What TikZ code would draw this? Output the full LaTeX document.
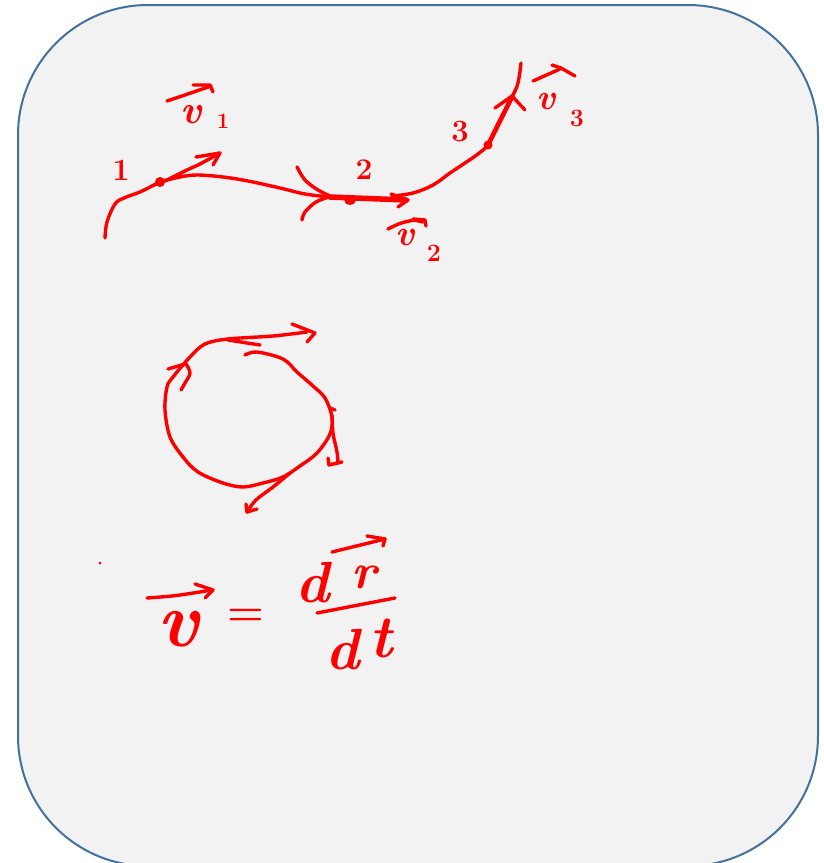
\documentclass[tikz,border=0pt]{standalone}
\usepackage{fontspec}
\definecolor{penred}{HTML}{FF0000}
\definecolor{boxline}{HTML}{41719C}
\definecolor{boxfill}{HTML}{F2F2F2}
\tikzset{
  ink/.style={draw=penred, line width=3.4pt, line cap=round, line join=round},
  thickink/.style={ink, line width=5.5pt},
  inktext/.style={text=penred, inner sep=0pt, anchor=center, font=\bfseries},
  dotmark/.style={fill=penred, draw=none},
}
\newcommand{\fs}[1]{\fontsize{#1}{#1}\selectfont}
\begin{document}
\begin{tikzpicture}[x=1pt,y=-1pt]
\useasboundingbox (0,0) rectangle (823,863);
% frame
\draw[boxline, fill=boxfill, line width=2pt, rounded corners=130pt] (18,5) rectangle (818,866);

% ---------- trajectory ----------
\coordinate (p1) at (160,182);
\coordinate (p2) at (350,201);
\coordinate (p3) at (488,145);
\draw[ink] plot[smooth, tension=0.6] coordinates {(105,238) (107,222) (115,204) (124,198) (140,192) (152,186) (160,182) (180,177) (197,175) (223,177) (248,181) (280,188) (305,194) (330,197)};
\draw[thickink] (330,197) -- (406,200);
\draw[ink] plot[smooth, tension=0.6] coordinates {(392,196) (413,193) (433,185) (450,173) (465,163) (478,154) (488,145) (494,132) (502,116) (512,97) (518,83) (521,63)};
% incoming arrowhead at point 2
\draw[ink] plot[smooth, tension=0.6] coordinates {(297,167) (305,180) (318,190) (330,196)};
\draw[ink] plot[smooth, tension=0.6] coordinates {(302,220) (305,212) (316,202) (329,197)};
% v2 arrow head
\draw[ink] (391,194) -- (408,200) -- (398,207);
% v1 tangent arrow
\draw[ink] plot[smooth, tension=0.5] coordinates {(165,181) (187,170) (200,164) (220,153)};
\draw[ink] (196,157) -- (220,153) -- (213,165);
% v3 tangent arrow
\draw[thickink, line width=4.5pt] (p3) -- (512,97);
\draw[ink] (495,108) -- (512,96) -- (525,110);
% dots
\fill[dotmark] (p1) circle (5pt);
\fill[dotmark] (p2) ellipse (5.5pt and 4pt);
\fill[dotmark] (p3) circle (4.5pt);

% point labels
\node[inktext] (n1) at (121,170) {\fs{31}1};
\node[inktext] (n2) at (364,170) {\fs{30}2};
\node[inktext] (n3) at (460,132) {\fs{31}3};

% v1 label
\node[inktext] (v1) at (191,115) {\fs{40}\itshape v};
\node[inktext] (s1) at (223,121) {\fs{22}1};
\draw[ink] (167,101) .. controls (185,95) .. (211,86);
\draw[ink] (193,85) -- (210,85) -- (213,92);
% v2 label
\node[inktext] (v2) at (405,237) {\fs{36}\itshape v};
\node[inktext] (s2) at (434,253) {\fs{25}2};
\draw[ink] (388,229) .. controls (400,223) .. (414,220) -- (423,222);
\draw[ink] (413,219) -- (425,220) -- (426,226);
% v3 label
\node[inktext] (v3) at (546,101) {\fs{36}\itshape v};
\node[inktext] (s3) at (577,118) {\fs{25}3};
\draw[ink] (533,81) -- (560,69);
\draw[ink] (552,65) -- (561,68) -- (575,76);

% ---------- circle ----------
\draw[ink] plot[smooth, tension=0.55] coordinates {(245,355) (257,352) (283,359) (297,372) (313,386) (325,398) (332,417) (330,434) (317,453) (300,466) (283,477) (263,483) (243,487) (223,483) (198,472) (183,457) (170,437) (165,410) (167,387) (173,377) (190,357) (205,344) (228,339) (273,336) (307,332)};
\draw[ink] (228,340) -- (260,345);
\draw[ink] (292,324) -- (315,333) -- (307,342);
% left tangent arrowhead
\draw[ink] (168,369) -- (185,364);
\draw[ink] plot[smooth, tension=0.6] coordinates {(186,364) (190,373) (185,383) (181,390)};
% right tangent arrow
\draw[ink] (330,408) -- (335,410);
\draw[ink] plot[smooth, tension=0.6] coordinates {(332,415) (333,433) (337,452) (338,463)};
\draw[ink] (328,458) -- (329,465) -- (342,462);
% bottom tangent arrow
\draw[ink] plot[smooth, tension=0.6] coordinates {(290,473) (273,487) (256,500) (247,512)};
\draw[ink] (246,504) -- (247,512) -- (257,509);

% ---------- formula ----------
\fill[dotmark] (100,563) circle (1.5pt);
\node[inktext] (fv) at (178,629) {\fs{78}\itshape v};
\draw[ink] (147,598) .. controls (175,596) .. (212,590);
\draw[ink] (195,584) -- (213,590) -- (205,598);
\node[inktext] (eq) at (246,617) {\fs{42}=};
\node[inktext] (dn) at (313,583) {\fs{58}\itshape d};
\node[inktext] (rn) at (364,577) {\fs{50}\itshape r};
\draw[ink] (332,552) -- (385,539);
\draw[ink] (367,536) -- (385,539) -- (383,546);
\draw[ink] (317,613) -- (395,598);
\node[inktext] (dd) at (343,650) {\fs{58}\itshape d};
\node[inktext] (tt) at (381,638) {\fs{60}\itshape t};
\end{tikzpicture}
\end{document}
